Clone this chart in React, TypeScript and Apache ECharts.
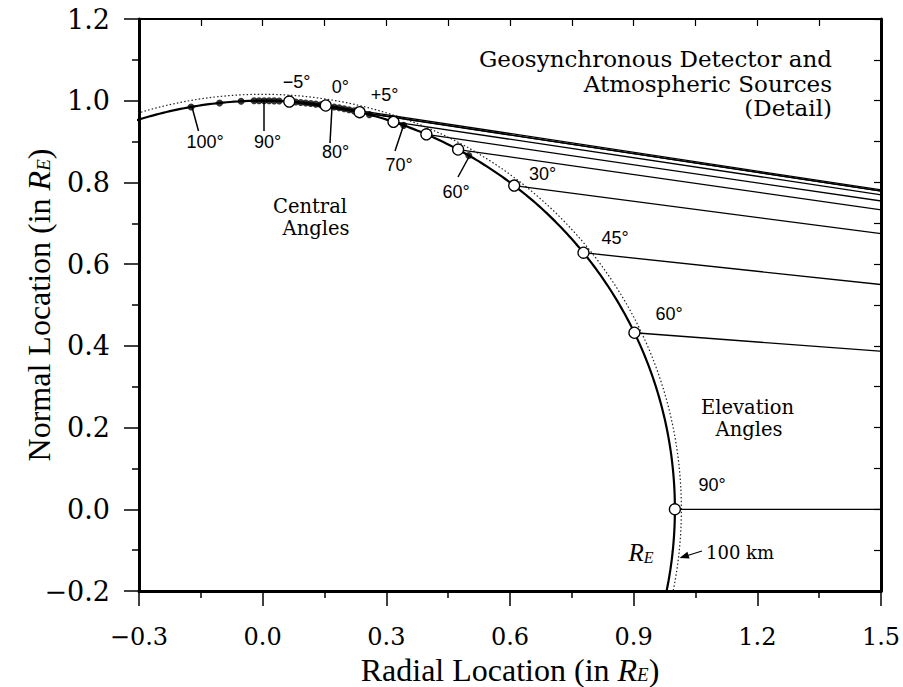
import React, { useEffect, useRef } from "react";
import * as echarts from "echarts";

// ---- data ----
const X_RANGE = [-0.3, 1.5];
const Y_RANGE = [-0.2, 1.2];
const EARTH_RADIUS = 1.0; // R_E
const ATMOS_RADIUS = 1.0157; // R_E + 100 km
const DETECTOR = [6.6, 0]; // geosynchronous detector position (in R_E)
// elevation angle of each open-circle source and its central angle (deg)
const ELEVATION_ANGLES = [90, 60, 45, 30, 20, 15, 10, 5, 0, -5];
const SOURCE_CENTRAL_ANGLES = [0, 25.6, 38.9, 52.4, 61.7, 66.6, 71.5, 76.4, 81.2, 86.3];
// filled central-angle markers (deg)
const CENTRAL_MARKER_ANGLES = [
  100, 96, 93, 91.2, 90.5, 89.8, 89.1, 88.4, 87.7, 85.4, 84.7, 84.0, 83.3, 82.6,
  81.9, 80.0, 79.3, 78.6, 77.9, 77.2, 75.0, 70.0, 60.0,
];
const CENTRAL_LABELS = [100, 90, 80, 70, 60];
const HORIZON_LABELS = [-5, 0, 5];
const ELEVATION_LABELS = [30, 45, 60, 90];
const ARC_SPAN = [115, -20]; // degrees covered by the drawn arcs

const rad = (d: number) => (d * Math.PI) / 180;
const polar = (r: number, deg: number) => [r * Math.cos(rad(deg)), r * Math.sin(rad(deg))];

function arcPoints(r: number) {
  const pts: number[][] = [];
  for (let a = ARC_SPAN[0]; a >= ARC_SPAN[1]; a -= 0.5) pts.push(polar(r, a));
  return pts;
}

const fmt = (v: number) => (v < 0 ? "\u2212" + Math.abs(v).toFixed(1) : v.toFixed(1));
const deg = (v: number) => (v < 0 ? "\u2212" + Math.abs(v) : v > 0 && v < 10 ? "+" + v : String(v)) + "°";

const SERIF = "'DejaVu Serif', serif";
const TICKFONT = "'DejaVu Serif', serif";
const NAMEFONT = "'Liberation Serif', serif";
const SANS = "'Liberation Sans', Arial, sans-serif";

export default function App() {
  const ref = useRef<HTMLDivElement>(null);
  useEffect(() => {
    if (!ref.current) return;
    const chart = echarts.init(ref.current, undefined, { renderer: "svg" });

    const nameRich = {
      n: { fontFamily: NAMEFONT, fontSize: 32, color: "#000", lineHeight: 28 },
      i: { fontFamily: NAMEFONT, fontSize: 32, fontStyle: "italic", color: "#000", lineHeight: 28 },
      s: { fontFamily: NAMEFONT, fontSize: 19, fontStyle: "italic", color: "#000", lineHeight: 12, verticalAlign: "bottom" },
    };

    const mainAxisCommon = (interval: number) => ({
      type: "value",
      interval,
      axisLine: { onZero: false, lineStyle: { color: "#000", width: 3 } },
      axisTick: { inside: false, length: 15, lineStyle: { color: "#000", width: 1.5 } },
      minorTick: { show: true, splitNumber: 2, length: 7, lineStyle: { color: "#000", width: 1.5 } },
      splitLine: { show: false },
      minorSplitLine: { show: false },
      nameLocation: "middle",
      nameMoveOverlap: false,
    });
    const frameAxis = (interval: number, width: number) => ({
      type: "value",
      interval,
      axisLine: { onZero: false, lineStyle: { color: "#000", width } },
      axisTick: { inside: true, length: 7, lineStyle: { color: "#000", width: 1.2 } },
      axisLabel: { show: false },
      splitLine: { show: false },
    });

    const series: any[] = [];
    series.push({
      type: "line",
      data: arcPoints(ATMOS_RADIUS),
      showSymbol: false,
      lineStyle: { color: "#222", width: 1.2, type: [1.5, 2.2] },
      z: 2,
    });
    series.push({
      type: "line",
      data: arcPoints(EARTH_RADIUS),
      showSymbol: false,
      lineStyle: { color: "#000", width: 2.2 },
      z: 3,
    });
    SOURCE_CENTRAL_ANGLES.forEach((a, i) => {
      series.push({
        type: "line",
        name: "e" + ELEVATION_ANGLES[i],
        data: [polar(EARTH_RADIUS, a), DETECTOR],
        showSymbol: false,
        lineStyle: { color: "#000", width: 1.3 },
        z: 2,
      });
    });
    series.push({
      type: "scatter",
      data: CENTRAL_MARKER_ANGLES.map((a) => polar(EARTH_RADIUS, a)),
      symbolSize: 7,
      itemStyle: { color: "#000" },
      z: 4,
    });
    series.push({
      type: "scatter",
      data: SOURCE_CENTRAL_ANGLES.map((a) => polar(EARTH_RADIUS, a)),
      symbolSize: 11,
      itemStyle: { color: "#fff", borderColor: "#000", borderWidth: 1.3, opacity: 1 },
      z: 5,
    });

    const txt = (text: string, x: number, y: number, font: string, size: number, align = "center", style: any = {}) => ({
      type: "text",
      x,
      y,
      z: 10,
      style: {
        text,
        fontFamily: font,
        fontSize: size,
        fill: "#000",
        align,
        textAlign: align,
        verticalAlign: "middle",
        textVerticalAlign: "middle",
        ...style,
      },
    });
    const seg = (x1: number, y1: number, x2: number, y2: number, w = 1.5) => ({
      type: "line",
      z: 10,
      shape: { x1, y1, x2, y2 },
      style: { stroke: "#000", lineWidth: w },
    });

    const centralPos = [
      [205, 142],
      [267.5, 142],
      [335.5, 152],
      [399, 165],
      [456, 192],
    ];
    const leaders = [
      [192, 107, 198.5, 131],
      [264, 101, 264, 131],
      [332, 107, 330, 143],
      [404, 124, 395, 151],
      [470, 155, 458, 177],
    ];
    const horizonPos = [
      [296.7, 82],
      [340.3, 87],
      [384.5, 95],
    ];
    const elevPos = [
      [542.5, 173.5],
      [615, 238],
      [669, 314],
      [712, 485],
    ];

    const graphics: any[] = [];
    CENTRAL_LABELS.forEach((v, i) => graphics.push(txt(deg(v), centralPos[i][0], centralPos[i][1], SANS, 18)));
    leaders.forEach((l) => graphics.push(seg(l[0], l[1], l[2], l[3])));
    HORIZON_LABELS.forEach((v, i) => graphics.push(txt(deg(v), horizonPos[i][0], horizonPos[i][1], SANS, 18)));
    ELEVATION_LABELS.forEach((v, i) => graphics.push(txt(deg(v), elevPos[i][0], elevPos[i][1], SANS, 18)));

    graphics.push(txt("Geosynchronous Detector and", 832, 59, SERIF, 23, "right"));
    graphics.push(txt("Atmospheric Sources", 832, 83.5, SERIF, 23, "right"));
    graphics.push(txt("(Detail)", 832, 108, SERIF, 23, "right"));
    graphics.push(txt("Central", 310, 206.5, SERIF, 19.5));
    graphics.push(txt("Angles", 316, 228.5, SERIF, 19.5));
    graphics.push(txt("Elevation", 747.5, 407, SERIF, 19.5));
    graphics.push(txt("Angles", 749, 429, SERIF, 19.5));
    graphics.push(txt("100 km", 706, 552, SERIF, 18, "left"));
    graphics.push(
      txt("{r|R}{e|E}", 641, 552, NAMEFONT, 24, "center", {
        rich: {
          r: { fontFamily: NAMEFONT, fontSize: 25, fontStyle: "italic", fill: "#000", lineHeight: 26 },
          e: { fontFamily: NAMEFONT, fontSize: 16, fontStyle: "italic", fill: "#000", lineHeight: 12, verticalAlign: "bottom" },
        },
      })
    );
    graphics.push(seg(702, 551, 686, 556, 1.3));
    graphics.push({
      type: "polygon",
      z: 10,
      shape: { points: [[679.5, 558], [689.6, 558.6], [687.4, 551.8]] },
      style: { fill: "#000" },
    });

    chart.setOption({
      animation: false,
      backgroundColor: "#fff",
      grid: { left: 139, right: 22, top: 19, bottom: 96, containLabel: false, outerBoundsMode: "none" },
      xAxis: [
        {
          ...mainAxisCommon(0.3),
          min: X_RANGE[0],
          max: X_RANGE[1],
          position: "bottom",
          axisLabel: { formatter: fmt, fontFamily: TICKFONT, fontSize: 24, lineHeight: 24, color: "#000", margin: 34 },
          name: "{n|Radial Location (in }{i|R}{s|E}{n|)}",
          nameGap: 65,
          nameTextStyle: { rich: nameRich },
        },
        { ...frameAxis(0.15, 2), min: X_RANGE[0], max: X_RANGE[1], position: "top" },
      ],
      yAxis: [
        {
          ...mainAxisCommon(0.2),
          min: Y_RANGE[0],
          max: Y_RANGE[1],
          position: "left",
          axisLabel: { formatter: fmt, fontFamily: TICKFONT, fontSize: 27, color: "#000", margin: 29 },
          name: "{n|Normal Location (in }{i|R}{s|E}{n|)}",
          nameGap: 86,
          nameRotate: 90,
          nameTextStyle: { rich: nameRich },
        },
        { ...frameAxis(0.1, 3), min: Y_RANGE[0], max: Y_RANGE[1], position: "right" },
      ],
      series,
      graphic: graphics,
    });
    return () => chart.dispose();
  }, []);

  return (
    <div
      ref={ref}
      style={{ position: "fixed", left: 0, top: 0, width: 903, height: 687, background: "#fff" }}
    />
  );
}
